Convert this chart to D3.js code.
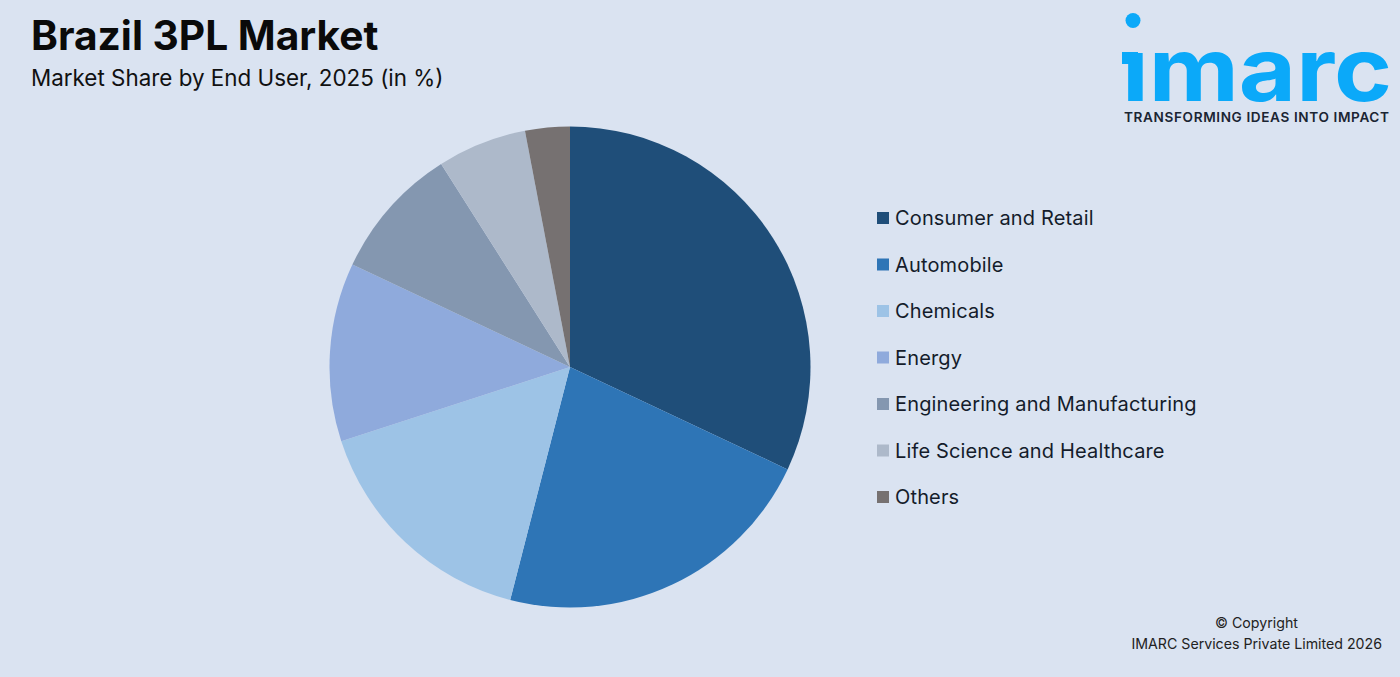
<!DOCTYPE html>
<html><head><meta charset="utf-8">
<script src="https://cdn.jsdelivr.net/npm/d3@7"></script>
<style>html,body{margin:0;padding:0;background:#DAE3F1;overflow:hidden}svg{display:block}text{font-family:Inter,"Noto Sans",sans-serif}</style>
</head><body><svg id="c" width="1400" height="677"></svg>
<script>
const categories=["Consumer and Retail","Automobile","Chemicals","Energy","Engineering and Manufacturing","Life Science and Healthcare","Others"];
const shares=[32,22,16,12,9,6,3];
const colors=["#1F4E79","#2E75B6","#9DC3E6","#8FAADC","#8497B0","#ADB9CA","#767171"];
const titleText="Brazil 3PL Market";
const subtitleText="Market Share by End User, 2025 (in %)";
const copyrightLines=["© Copyright","IMARC Services Private Limited 2026"];
const svg=d3.select("#c");
const color=d3.scaleOrdinal(categories,colors);
const pie=d3.pie().sort(null).value(d=>d)(shares);
const arc=d3.arc().innerRadius(0).outerRadius(240.5);
svg.append("g").attr("transform","translate(570,367)").selectAll("path").data(pie).join("path")
 .attr("d",arc).attr("fill",(d,i)=>color(categories[i]));
svg.append("text").attr("x",31).attr("y",50).attr("font-size",40.7).attr("font-weight",700).attr("fill","#0a0a0a").text(titleText);
svg.append("text").attr("x",31).attr("y",86).attr("font-size",22.4).attr("fill","#111").text(subtitleText);
const legendY=d3.scalePoint().domain(categories).range([218,497]);
const lg=svg.append("g").selectAll("g").data(categories).join("g").attr("transform",d=>`translate(877,${legendY(d)})`);
lg.append("rect").attr("y",-6).attr("width",12).attr("height",12).attr("fill",d=>color(d));
lg.append("text").attr("x",18).attr("y",7).attr("font-size",20).attr("letter-spacing",0.15).attr("fill","#141c2b").text(d=>d);
const defs=svg.append("defs");
defs.append("clipPath").attr("id","noDot").append("rect").attr("x",1100).attr("y",50).attr("width",300).attr("height",60);
const logo=svg.append("g").attr("fill","#0BA9F9");
logo.append("circle").attr("cx",1133).attr("cy",20.5).attr("r",7.5);
logo.append("rect").attr("x",1122).attr("y",52).attr("width",16).attr("height",12);
logo.append("text").attr("clip-path","url(#noDot)").attr("x",1122).attr("y",100.5).attr("font-size",88).attr("font-weight",700).attr("textLength",270).attr("lengthAdjust","spacingAndGlyphs").text("imarc");
svg.append("text").attr("x",1124).attr("y",122).attr("font-size",13.6).attr("font-weight",600).attr("textLength",265).attr("fill","#1b2533").text("TRANSFORMING IDEAS INTO IMPACT");
svg.append("text").attr("x",1256.5).attr("y",628).attr("text-anchor","middle").attr("font-size",14.2).attr("fill","#222").text(copyrightLines[0]);
svg.append("text").attr("x",1382).attr("y",649).attr("text-anchor","end").attr("font-size",14.2).attr("fill","#222").text(copyrightLines[1]);
</script></body></html>
